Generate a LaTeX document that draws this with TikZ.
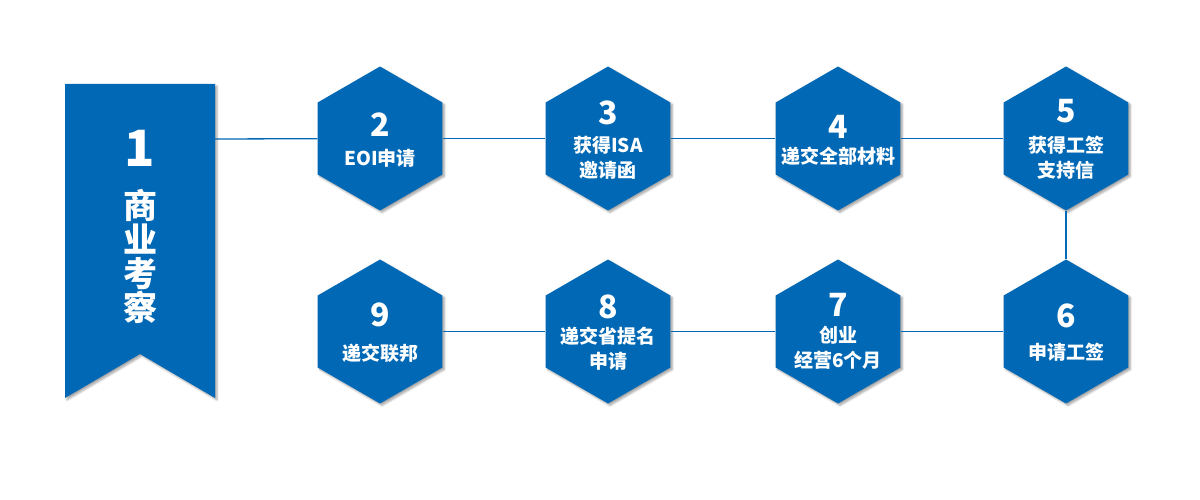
\documentclass[tikz,border=0pt]{standalone}
\usepackage{fontspec}
\setmainfont{Noto Sans CJK SC}
\usetikzlibrary{shapes.geometric,shadows.blur}
\definecolor{hexblue}{RGB}{0,104,180}
\tikzset{
  hexa/.style={regular polygon, regular polygon sides=6, regular polygon rotate=30,
    minimum size=144pt, inner sep=0pt, fill=hexblue,
    blur shadow={shadow xshift=2pt, shadow yshift=-2pt, shadow blur radius=2pt, shadow opacity=35}},
  num/.style={text=white, font=\bfseries\fontsize{32}{32}\selectfont, inner sep=0pt},
  lbl/.style={text=white, font=\bfseries\fontsize{19}{25}\selectfont, align=center, inner sep=0pt},
  conn/.style={draw=hexblue, line width=1.3pt}
}
\begin{document}
\begin{tikzpicture}[x=1pt,y=-1pt]
\useasboundingbox (0,0) rectangle (1200,500);
% banner
\fill[hexblue, blur shadow={shadow xshift=2pt, shadow yshift=-2pt, shadow blur radius=2pt, shadow opacity=35}]
  (65,84) -- (215,84) -- (215,398) -- (140,354) -- (65,398) -- cycle;
\coordinate (b) at (215,139);
\node[text=white, font=\bfseries\fontsize{50}{50}\selectfont, inner sep=0pt] (b1) at (140,148.5) {1};
\node[text=white, font=\bfseries\fontsize{34}{34}\selectfont, align=center, inner sep=0pt] (bt) at (140,256) {商\\业\\考\\察};
% hexagons
\node[hexa] (h2) at (380,138.5) {};
\node[hexa] (h3) at (608,138.5) {};
\node[hexa] (h4) at (838,138.5) {};
\node[hexa] (h5) at (1066,138.5) {};
\node[hexa] (h6) at (1066,331.5) {};
\node[hexa] (h7) at (838,331.5) {};
\node[hexa] (h8) at (608,331.5) {};
\node[hexa] (h9) at (380,331.5) {};
% connectors
\draw[conn] (b) -- (h2);
\draw[conn] (h2) -- (h3);
\draw[conn] (h3) -- (h4);
\draw[conn] (h4) -- (h5);
\draw[conn] (h5) -- (h6);
\draw[conn] (h6) -- (h7);
\draw[conn] (h7) -- (h8);
\draw[conn] (h8) -- (h9);
% texts
\node[num] (n2) at (380,125) {2};
\node[lbl] (l2) at (380,158) {EOI申请};
\node[num] (n3) at (608,113) {3};
\node[lbl] (l3) at (608,158) {获得ISA\\邀请函};
\node[num] (n4) at (838,127) {4};
\node[lbl] (l4) at (838,156) {递交全部材料};
\node[num] (n5) at (1066,111) {5};
\node[lbl] (l5) at (1066,158) {获得工签\\支持信};
\node[num] (n6) at (1066,316) {6};
\node[lbl] (l6) at (1066,352) {申请工签};
\node[num] (n7) at (838,305) {7};
\node[lbl] (l7) at (838,348) {创业\\经营6个月};
\node[num] (n8) at (608,307) {8};
\node[lbl] (l8) at (608,349) {递交省提名\\申请};
\node[num] (n9) at (380,315) {9};
\node[lbl] (l9) at (380,353) {递交联邦};
\end{tikzpicture}
\end{document}
